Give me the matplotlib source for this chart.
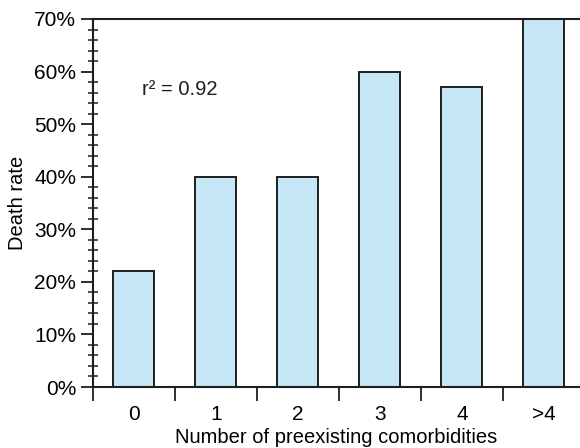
import matplotlib.pyplot as plt
from matplotlib.ticker import MultipleLocator, FixedLocator, NullFormatter

categories = ['0', '1', '2', '3', '4', '>4']
death_rate = [22, 40, 40, 60, 57, 70]

plt.rcParams['font.family'] = ['Liberation Sans', 'DejaVu Sans']

fig = plt.figure(figsize=(5.8, 4.48), dpi=100)
ax = fig.add_axes([93 / 580, 61 / 448, 487 / 580, 368 / 448])

x = list(range(len(categories)))
ax.bar(x, death_rate, width=0.5, color='#c6e7f6', edgecolor='#1e1e1e',
       linewidth=1.4, zorder=2, clip_on=True)

ax.set_xlim(-0.5, 5.44)
ax.set_ylim(0, 70)

# category labels between the boundary ticks
ax.xaxis.set_major_locator(FixedLocator([i - 0.5 for i in range(len(categories))] + [5.5]))
ax.xaxis.set_major_formatter(NullFormatter())
ax.xaxis.set_minor_locator(FixedLocator(x))
ax.set_xticklabels(categories, minor=True)
ax.tick_params(axis='x', which='major', direction='out', length=10, width=1.3, color='#1e1e1e')
ax.tick_params(axis='x', which='minor', length=0, pad=13, labelsize=15)

ax.yaxis.set_major_locator(MultipleLocator(10))
ax.yaxis.set_minor_locator(MultipleLocator(2))
ax.set_yticks(range(0, 71, 10))
ax.set_yticklabels([f'{v}%' for v in range(0, 71, 10)])
ax.tick_params(axis='y', which='major', direction='out', length=9, width=1.3, color='#1e1e1e',
               labelsize=15, pad=3)
ax.tick_params(axis='y', which='minor', direction='inout', length=7, width=1.1, color='#1e1e1e')

for side in ['left', 'bottom', 'top']:
    ax.spines[side].set_linewidth(1.5)
    ax.spines[side].set_color('#1e1e1e')
ax.spines['right'].set_visible(False)

ax.set_ylabel('Death rate', fontsize=14.5, labelpad=5)
ax.set_xlabel('Number of preexisting comorbidities', fontsize=14.5, labelpad=3)

ax.text(0.1, 55.5, 'r\u00b2 = 0.92', fontsize=14.5, color='#1e1e1e')

fig.savefig('out.png', dpi=100)
